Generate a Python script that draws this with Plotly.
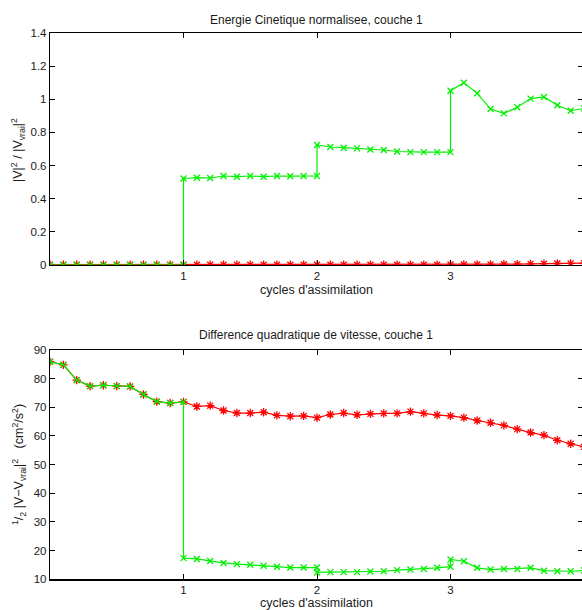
import plotly.graph_objects as go

# ---------------- data ----------------
steps = [0.0, 0.1, 0.2, 0.3, 0.4, 0.5, 0.6, 0.7, 0.8, 0.9, 1.0,
         1.1, 1.2, 1.3, 1.4, 1.5, 1.6, 1.7, 1.8, 1.9, 2.0,
         2.1, 2.2, 2.3, 2.4, 2.5, 2.6, 2.7, 2.8, 2.9, 3.0,
         3.1, 3.2, 3.3, 3.4, 3.5, 3.6, 3.7, 3.8, 3.9, 4.0]

# green series restart at each cycle boundary (duplicated x at 1, 2, 3)
green_x = [0.0, 0.1, 0.2, 0.3, 0.4, 0.5, 0.6, 0.7, 0.8, 0.9, 1.0,
           1.0, 1.1, 1.2, 1.3, 1.4, 1.5, 1.6, 1.7, 1.8, 1.9, 2.0,
           2.0, 2.1, 2.2, 2.3, 2.4, 2.5, 2.6, 2.7, 2.8, 2.9, 3.0,
           3.0, 3.1, 3.2, 3.3, 3.4, 3.5, 3.6, 3.7, 3.8, 3.9, 4.0]

energy_red = [0.002, 0.002, 0.002, 0.002, 0.002, 0.002, 0.002, 0.002, 0.002, 0.002, 0.002,
              0.002, 0.002, 0.002, 0.002, 0.002, 0.002, 0.002, 0.002, 0.002, 0.002,
              0.002, 0.002, 0.002, 0.002, 0.002, 0.002, 0.002, 0.002, 0.002, 0.003,
              0.003, 0.004, 0.004, 0.005, 0.005, 0.007, 0.008, 0.009, 0.010, 0.011]

energy_green = [0.0, 0.0, 0.0, 0.0, 0.0, 0.0, 0.0, 0.0, 0.0, 0.0, 0.0,
                0.522, 0.527, 0.525, 0.537, 0.533, 0.537, 0.533, 0.537, 0.536, 0.537, 0.537,
                0.724, 0.712, 0.708, 0.704, 0.697, 0.694, 0.685, 0.681, 0.681, 0.681, 0.681,
                1.052, 1.100, 1.036, 0.941, 0.915, 0.952, 1.004, 1.014, 0.964, 0.931, 0.945]

diff_red = [85.9, 84.8, 79.5, 77.4, 77.7, 77.4, 77.3, 74.5, 72.0, 71.5, 71.9,
            70.3, 70.6, 68.9, 68.0, 68.0, 68.3, 67.2, 66.9, 67.0, 66.4,
            67.5, 68.0, 67.4, 67.7, 67.9, 67.9, 68.5, 67.9, 67.3, 67.0,
            66.4, 65.4, 64.6, 63.7, 62.4, 61.2, 60.3, 58.5, 57.3, 56.2]

diff_green = [85.9, 84.8, 79.5, 77.4, 77.7, 77.4, 77.3, 74.5, 72.0, 71.5, 71.9,
              17.4, 17.1, 16.4, 15.7, 15.3, 15.1, 14.7, 14.4, 14.1, 14.1, 14.1,
              12.4, 12.5, 12.5, 12.5, 12.7, 12.8, 13.2, 13.4, 13.6, 14.0, 14.4,
              16.9, 16.3, 14.0, 13.4, 13.6, 13.6, 14.0, 13.0, 12.8, 12.8, 13.1]

x_ticks = [1, 2, 3]
top_y_ticks = [0, 0.2, 0.4, 0.6, 0.8, 1.0, 1.2, 1.4]
bot_y_ticks = [10, 20, 30, 40, 50, 60, 70, 80, 90]

title_top = "Energie Cinetique normalisee, couche 1"
title_bot = "Difference quadratique de vitesse, couche 1"
xlabel = "cycles d'assimilation"
ylabel_top = "|V|<sup>2</sup> / |V<sub>vrai</sub>|<sup>2</sup>"
ylabel_bot = ("<sup>1</sup>/<sub>2</sub> |V\u2212V<sub>vrai</sub>|<sup>2</sup>"
              "\u00a0\u00a0\u00a0(cm<sup>2</sup>/s<sup>2</sup>)")

# ---------------- styling ----------------
RED = "#ff0000"
GREEN = "#00f000"
FONT = "Liberation Sans, Arial, sans-serif"
TXT = "#1a1a1a"

W, H = 582, 610
L = 50

def py(p):
    return 1 - p / H

def px(p):
    return (p - L) / (W - L)

fig = go.Figure()

red_style = dict(mode="lines+markers", line=dict(color=RED, width=1.2),
                 marker=dict(symbol="asterisk-open", size=7,
                             line=dict(color=RED, width=1.3)),
                 showlegend=False, hoverinfo="skip")
green_style = dict(mode="lines+markers", line=dict(color=GREEN, width=1.2),
                   marker=dict(symbol="x-thin-open", size=6,
                               line=dict(color=GREEN, width=1.3)),
                   showlegend=False, hoverinfo="skip")

fig.add_trace(go.Scatter(x=steps, y=energy_red, xaxis="x", yaxis="y", **red_style))
fig.add_trace(go.Scatter(x=green_x, y=energy_green, xaxis="x", yaxis="y", **green_style))
fig.add_trace(go.Scatter(x=steps, y=diff_red, xaxis="x2", yaxis="y2", **red_style))
fig.add_trace(go.Scatter(x=green_x, y=diff_green, xaxis="x2", yaxis="y2", **green_style))
# placeholders so the right-hand tick axes are drawn
fig.add_trace(go.Scatter(x=[None], y=[None], xaxis="x", yaxis="y3", showlegend=False, hoverinfo="skip"))
fig.add_trace(go.Scatter(x=[None], y=[None], xaxis="x2", yaxis="y4", showlegend=False, hoverinfo="skip"))

xr = [0, (W - L) / 133.5]
top_dom = [py(265), py(33)]
bot_dom = [py(579.3), py(350)]

xcommon = dict(range=xr, tickvals=x_ticks, ticks="inside", ticklen=5,
               tickcolor="black", showline=True, linecolor="black", linewidth=1.2,
               mirror="ticks", showgrid=False, zeroline=False, automargin=False,
               tickfont=dict(family=FONT, size=11.5, color=TXT), domain=[0, 1])
ycommon = dict(ticks="inside", ticklen=5, tickcolor="black", showline=True,
               linecolor="black", linewidth=1.2, showgrid=False, zeroline=False,
               automargin=False, tickfont=dict(family=FONT, size=11.5, color=TXT))
yright = dict(side="right", ticks="inside", ticklen=4, tickcolor="black",
              showline=False, showgrid=False, zeroline=False, showticklabels=False,
              automargin=False)

fig.update_layout(
    width=W, height=H, autosize=False,
    margin=dict(l=L, r=0, t=0, b=0, pad=0),
    paper_bgcolor="white", plot_bgcolor="white",
    xaxis=dict(anchor="y", **xcommon),
    xaxis2=dict(anchor="y2", **xcommon),
    yaxis=dict(anchor="x", domain=top_dom, range=[0, 1.4], tickvals=top_y_ticks, **ycommon),
    yaxis2=dict(anchor="x2", domain=bot_dom, range=[10, 90], tickvals=bot_y_ticks, **ycommon),
    yaxis3=dict(overlaying="y", anchor="x", range=[0, 1.4], tickvals=top_y_ticks, **yright),
    yaxis4=dict(overlaying="y2", anchor="x2", range=[10, 90], tickvals=bot_y_ticks, **yright),
)

title_font = dict(family=FONT, size=12, color=TXT)
label_font = dict(family=FONT, size=12.5, color=TXT)
annotations = [
    dict(text=title_top, x=0.5, y=py(20), font=title_font),
    dict(text=title_bot, x=0.5, y=py(335), font=title_font),
    dict(text=xlabel, x=0.5, y=py(290), font=label_font),
    dict(text=xlabel, x=0.5, y=py(603), font=label_font),
    dict(text=ylabel_top, x=px(18), y=py(150), textangle=-90, font=label_font),
    dict(text=ylabel_bot, x=px(19), y=py(465), textangle=-90, font=label_font),
]
for a in annotations:
    fig.add_annotation(xref="paper", yref="paper", showarrow=False,
                       xanchor="center", yanchor="middle", **a)

fig.write_html("out.html",
               config={"displayModeBar": False, "staticPlot": True},
               post_script="document.body.style.margin='0';"
                           "document.body.style.overflow='hidden';")
